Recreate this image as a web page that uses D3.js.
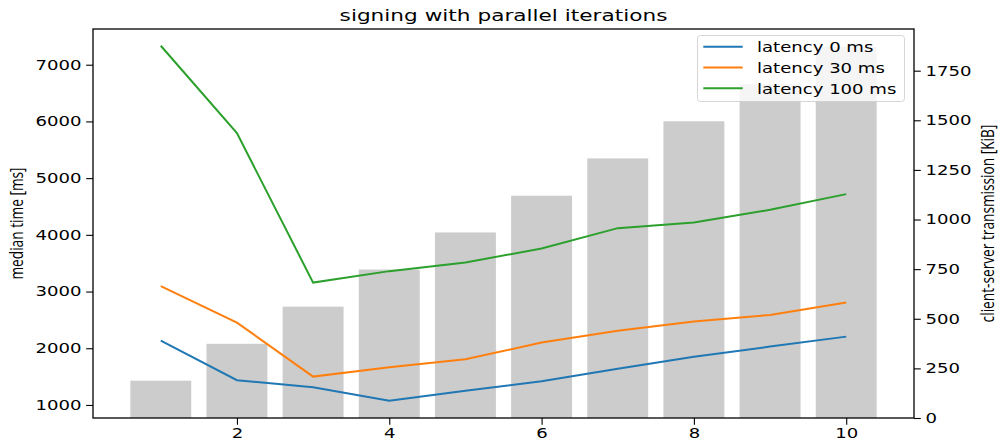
<!DOCTYPE html>
<html>
<head>
<meta charset="utf-8">
<script src="https://cdn.jsdelivr.net/npm/d3@7"></script>
<style>
  body { margin: 0; background: #fff; }
  svg { display: block; }
</style>
</head>
<body>
<div id="chart"></div>
<script>
// data
const iterations = [1, 2, 3, 4, 5, 6, 7, 8, 9, 10];
const transmission = [188, 374, 561, 748, 935, 1120, 1308, 1495, 1682, 1870];
const latency0 = [2135, 1436, 1312, 1076, 1250, 1420, 1640, 1852, 2029, 2205];
const latency30 = [3095, 2453, 1500, 1665, 1806, 2100, 2310, 2470, 2588, 2805];
const latency100 = [7335, 5794, 3158, 3360, 3511, 3760, 4118, 4217, 4441, 4718];
const seriesNames = ["latency 0 ms", "latency 30 ms", "latency 100 ms"];
const xTicks = [2, 4, 6, 8, 10];
const leftTicks = [1000, 2000, 3000, 4000, 5000, 6000, 7000];
const rightTicks = [0, 250, 500, 750, 1000, 1250, 1500, 1750];

const colors = ["#1f77b4", "#ff7f0e", "#2ca02c"];
const series = [latency0, latency30, latency100];

const width = 999, height = 440;
const margin = { top: 29, right: 85, bottom: 22, left: 93 };
const stretch = 1.32; // the picture is stretched horizontally
const tickFont = "DejaVu Sans";
const tickSize = 13.7;

const svg = d3.select("#chart").append("svg")
    .attr("width", width)
    .attr("height", height);

const x = d3.scaleLinear()
    .domain([0.11, 10.89])
    .range([margin.left, width - margin.right]);
const y = d3.scaleLinear()
    .domain([770, 7630])
    .range([height - margin.bottom, margin.top]);
const y2 = d3.scaleLinear()
    .domain([0, 1960])
    .range([height - margin.bottom, margin.top]);

// bars (right axis)
svg.append("g")
    .selectAll("rect")
    .data(iterations)
    .enter()
    .append("rect")
    .attr("x", d => x(d - 0.4))
    .attr("width", d => x(d + 0.4) - x(d - 0.4))
    .attr("y", (d, i) => y2(transmission[i]))
    .attr("height", (d, i) => y2(0) - y2(transmission[i]))
    .attr("fill", "#cccccc");

// lines (left axis)
const line = d3.line()
    .x((d, i) => x(iterations[i]))
    .y(d => y(d));

series.forEach(function (s, k) {
    svg.append("path")
        .datum(s)
        .attr("d", line)
        .attr("fill", "none")
        .attr("stroke", colors[k])
        .attr("stroke-width", 2);
});

// stretch tick labels like the reference
function styleTicks(g) {
    g.select(".domain").remove();
    g.selectAll("line").attr("stroke", "#000").attr("stroke-width", 1.1);
    g.selectAll("text").each(function () {
        const t = d3.select(this);
        const tx = +t.attr("x") || 0;
        const ty = +t.attr("y") || 0;
        t.attr("x", 0).attr("y", 0)
            .attr("transform", "translate(" + tx + "," + ty + ") scale(" + stretch + ",1)");
    });
    g.selectAll("text")
        .style("font-family", tickFont)
        .style("font-size", tickSize + "px")
        .attr("fill", "#000");
}

svg.append("g")
    .attr("transform", "translate(0," + (height - margin.bottom) + ")")
    .call(d3.axisBottom(x).tickValues(xTicks).tickFormat(d3.format("d")).tickSize(6.8).tickPadding(3))
    .call(styleTicks);

svg.append("g")
    .attr("transform", "translate(" + margin.left + ",0)")
    .call(d3.axisLeft(y).tickValues(leftTicks).tickFormat(d3.format("d")).tickSize(6.8).tickPadding(4.8))
    .call(styleTicks);

svg.append("g")
    .attr("transform", "translate(" + (width - margin.right) + ",0)")
    .call(d3.axisRight(y2).tickValues(rightTicks).tickFormat(d3.format("d")).tickSize(6.8).tickPadding(4.8))
    .call(styleTicks);

// frame
svg.append("rect")
    .attr("x", margin.left)
    .attr("y", margin.top)
    .attr("width", width - margin.left - margin.right)
    .attr("height", height - margin.top - margin.bottom)
    .attr("fill", "none")
    .attr("stroke", "#000")
    .attr("stroke-width", 1.3);

// title
svg.append("text")
    .attr("transform", "translate(" + ((margin.left + width - margin.right) / 2) + ",20.5) scale(" + stretch + ",1)")
    .attr("text-anchor", "middle")
    .style("font-family", tickFont)
    .style("font-size", "16.4px")
    .text("signing with parallel iterations");

// axis labels
svg.append("text")
    .attr("transform", "translate(23," + ((margin.top + height - margin.bottom) / 2) + ") scale(" + stretch + ",1) rotate(-90)")
    .attr("text-anchor", "middle")
    .style("font-family", "Open Sans")
    .style("font-size", "13.7px")
    .text("median time [ms]");

svg.append("text")
    .attr("transform", "translate(994," + ((margin.top + height - margin.bottom) / 2) + ") scale(" + stretch + ",1) rotate(-90)")
    .attr("text-anchor", "middle")
    .style("font-family", "Open Sans")
    .style("font-size", "13.7px")
    .text("client-server transmission [KiB]");

// legend
const legend = svg.append("g");
legend.append("rect")
    .attr("x", 697.5)
    .attr("y", 35.5)
    .attr("width", 207)
    .attr("height", 66)
    .attr("rx", 3)
    .attr("fill", "#fff")
    .attr("fill-opacity", 0.8)
    .attr("stroke", "#cccccc")
    .attr("stroke-opacity", 0.8);

const rowY = [46.7, 67.5, 88.2];
seriesNames.forEach(function (name, k) {
    legend.append("line")
        .attr("x1", 703.3).attr("x2", 742.7)
        .attr("y1", rowY[k]).attr("y2", rowY[k])
        .attr("stroke", colors[k])
        .attr("stroke-width", 2);
    legend.append("text")
        .attr("transform", "translate(757," + (rowY[k] + 5.4) + ") scale(" + stretch + ",1)")
        .style("font-family", tickFont)
        .style("font-size", tickSize + "px")
        .text(name);
});
</script>
</body>
</html>
